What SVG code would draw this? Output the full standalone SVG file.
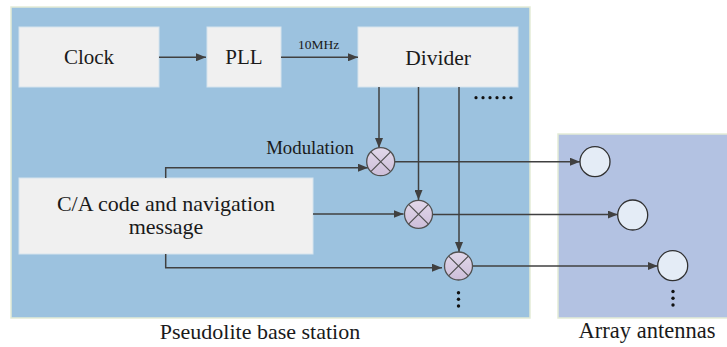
<svg xmlns="http://www.w3.org/2000/svg" width="727" height="347" viewBox="0 0 727 347">
<defs>
<marker id="arr" markerWidth="10" markerHeight="8" refX="10" refY="4" orient="auto" markerUnits="userSpaceOnUse">
<path d="M0,0 L10,4 L0,8 Z" fill="#404040"/>
</marker>
<linearGradient id="mix" x1="0" y1="0" x2="0" y2="1">
<stop offset="0" stop-color="#E2D8EA"/>
<stop offset="1" stop-color="#CDBED9"/>
</linearGradient>
</defs>
<style>
.panel{fill:#9CC2DF;stroke:#E3EBD6;stroke-width:1.5}
.panel2{fill:#B3C2E2;stroke:#E3EBD6;stroke-width:1.5}
.box{fill:#F0F0F0;stroke:#D6E4EE;stroke-width:1}
.t{fill:#1a1a1a}
.c{stroke:#404040;stroke-width:1.5;fill:none}
.mix{fill:url(#mix);stroke:#505050;stroke-width:1.3}
.mx{stroke:#505050;stroke-width:1.2}
.ant{fill:#E4ECF6;stroke:#303030;stroke-width:1.3}
.dot{fill:#111}
</style>
<g font-family="'Liberation Serif', 'Times New Roman', 'DejaVu Serif', serif">
<rect class="panel" x="11" y="7" width="519" height="311"/>
<rect class="panel2" x="558" y="134" width="170" height="184"/>
<text class="t" x="260" y="339" font-size="22" text-anchor="middle">Pseudolite base station</text>
<text class="t" x="647" y="338" font-size="22.5" text-anchor="middle">Array antennas</text>

<g id="clock"><rect class="box" x="19" y="27" width="140" height="60"/><text class="t" x="89" y="64" font-size="21" text-anchor="middle">Clock</text></g>
<g id="pll"><rect class="box" x="207" y="27" width="74" height="60"/><text class="t" x="244" y="64" font-size="21" text-anchor="middle">PLL</text></g>
<g id="divider"><rect class="box" x="358" y="27" width="160" height="60"/><text class="t" x="438" y="64.5" font-size="21.5" text-anchor="middle">Divider</text></g>
<g id="ca"><rect class="box" x="19" y="178" width="294" height="76"/><text class="t" x="166" y="210.5" font-size="22" text-anchor="middle">C/A code and navigation</text><text class="t" x="166" y="234" font-size="22" text-anchor="middle">message</text></g>

<g id="connectors">
<line class="c" x1="159" y1="57.3" x2="206" y2="57.3" marker-end="url(#arr)"/>
<line class="c" x1="281" y1="57.3" x2="358" y2="57.3" marker-end="url(#arr)"/>
<line class="c" x1="379" y1="87" x2="379" y2="148" marker-end="url(#arr)"/>
<line class="c" x1="418.5" y1="87" x2="418.5" y2="200" marker-end="url(#arr)"/>
<line class="c" x1="459" y1="87" x2="459" y2="252" marker-end="url(#arr)"/>
<path class="c" d="M165.7,178 V167.7 H368" marker-end="url(#arr)"/>
<line class="c" x1="313" y1="214" x2="403.5" y2="214" marker-end="url(#arr)"/>
<path class="c" d="M165.7,254 V267.7 H442" marker-end="url(#arr)"/>
<line class="c" x1="395" y1="161.7" x2="580" y2="161.7" marker-end="url(#arr)"/>
<line class="c" x1="432.7" y1="214.5" x2="617.7" y2="214.5" marker-end="url(#arr)"/>
<line class="c" x1="472.7" y1="266" x2="657.7" y2="266" marker-end="url(#arr)"/>
</g>
<text class="t" x="310" y="154" font-size="18.8" text-anchor="middle">Modulation</text>
<text class="t" x="318.5" y="48.5" font-size="13.5" text-anchor="middle">10MHz</text>

<g id="mixer1"><circle class="mix" cx="380.7" cy="161.7" r="14"/><path class="mx" d="M370.8,151.8 L390.6,171.6 M390.6,151.8 L370.8,171.6"/></g>
<g id="mixer2"><circle class="mix" cx="418.5" cy="214.3" r="14"/><path class="mx" d="M408.6,204.4 L428.4,224.2 M428.4,204.4 L408.6,224.2"/></g>
<g id="mixer3"><circle class="mix" cx="458.5" cy="266" r="14"/><path class="mx" d="M448.6,256.1 L468.4,275.9 M468.4,256.1 L448.6,275.9"/></g>

<g id="ant1"><circle class="ant" cx="595" cy="161.7" r="15"/></g>
<g id="ant2"><circle class="ant" cx="632.7" cy="215" r="15"/></g>
<g id="ant3"><circle class="ant" cx="672.7" cy="265.7" r="15"/></g>

<g id="dots">
<circle class="dot" cx="476" cy="97.7" r="1.6"/><circle class="dot" cx="483" cy="97.7" r="1.6"/><circle class="dot" cx="490" cy="97.7" r="1.6"/><circle class="dot" cx="497" cy="97.7" r="1.6"/><circle class="dot" cx="504" cy="97.7" r="1.6"/><circle class="dot" cx="511" cy="97.7" r="1.6"/>
<circle class="dot" cx="458.5" cy="292.7" r="1.7"/><circle class="dot" cx="458.5" cy="299.3" r="1.7"/><circle class="dot" cx="458.5" cy="306" r="1.7"/>
<circle class="dot" cx="673" cy="291.5" r="1.7"/><circle class="dot" cx="673" cy="298.2" r="1.7"/><circle class="dot" cx="673" cy="305" r="1.7"/>
</g>
</g>
</svg>
